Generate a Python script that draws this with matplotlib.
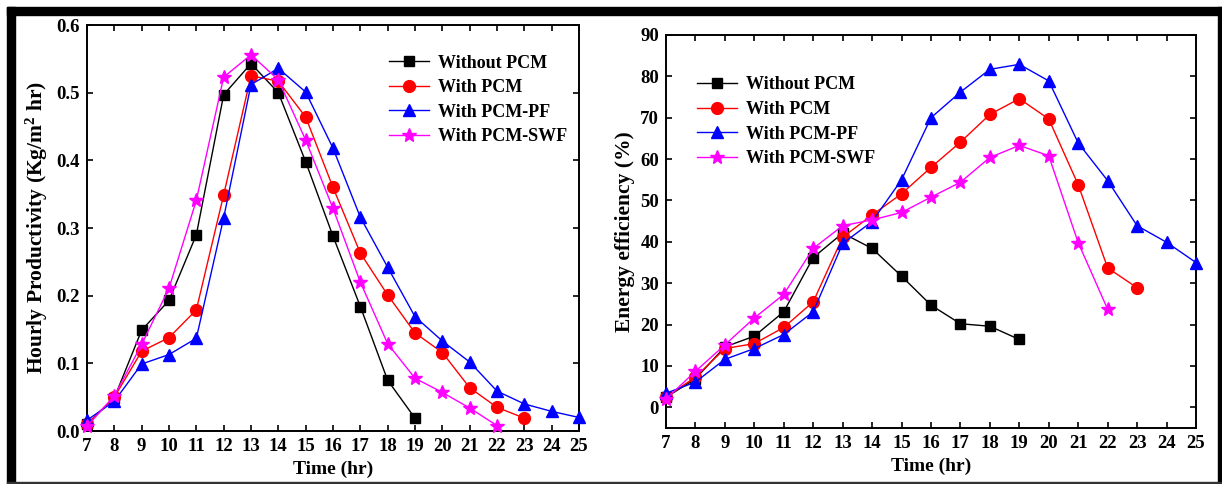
import matplotlib
matplotlib.use("Agg")
import matplotlib.pyplot as plt
from matplotlib.patches import Rectangle

# Data
hours = list(range(7, 26))

prod_without = [0.010, 0.049, 0.149, 0.193, 0.290, 0.497, 0.543, 0.500, 0.398, 0.288, 0.184, 0.075, 0.019]
prod_pcm = [0.010, 0.050, 0.118, 0.138, 0.179, 0.349, 0.525, 0.517, 0.464, 0.360, 0.263, 0.201, 0.145,
            0.116, 0.064, 0.035, 0.019]
prod_pf = [0.016, 0.044, 0.099, 0.113, 0.137, 0.315, 0.512, 0.536, 0.501, 0.418, 0.316, 0.242, 0.169,
           0.133, 0.102, 0.059, 0.040, 0.029, 0.020]
prod_swf = [0.007, 0.052, 0.128, 0.211, 0.341, 0.523, 0.556, 0.519, 0.430, 0.329, 0.220, 0.129, 0.078,
            0.057, 0.034, 0.008]

eff_without = [2.4, 6.9, 14.6, 17.2, 23.1, 36.2, 42.1, 38.4, 31.7, 24.7, 20.2, 19.6, 16.4]
eff_pcm = [2.5, 7.3, 14.2, 15.4, 19.3, 25.5, 41.1, 46.5, 51.6, 58.0, 64.1, 70.8, 74.6, 69.7, 53.8, 33.7, 28.9]
eff_pf = [3.4, 6.1, 11.6, 14.2, 17.6, 23.1, 39.6, 44.9, 55.0, 70.0, 76.2, 81.7, 82.9, 78.9, 63.9, 54.8,
          43.9, 39.9, 35.0]
eff_swf = [2.0, 8.7, 15.1, 21.6, 27.3, 38.4, 43.9, 45.3, 47.1, 50.8, 54.4, 60.4, 63.3, 60.8, 39.8, 23.7]

labels = ["Without PCM", "With PCM", "With PCM-PF", "With PCM-SWF"]
styles = [("black", "s", 7.5), ("red", "o", 8.5), ("blue", "^", 8.5), ("magenta", "*", 10.5)]

plt.rcParams["font.family"] = ["Liberation Serif", "DejaVu Serif"]
plt.rcParams["font.weight"] = "bold"
plt.rcParams["mathtext.fontset"] = "custom"
plt.rcParams["mathtext.rm"] = "Liberation Serif:bold"
plt.rcParams["mathtext.it"] = "Liberation Serif:bold"
plt.rcParams["mathtext.bf"] = "Liberation Serif:bold"

fig = plt.figure(figsize=(12.22, 4.84), dpi=100)

# black frame around the figure
fig.patches.append(Rectangle((7 / 1222, 1 - 15 / 484), 1 - 7 / 1222, 8 / 484,
                             transform=fig.transFigure, color="black", zorder=0))
fig.patches.append(Rectangle((7 / 1222, 0), 8 / 1222, 1 - 7 / 484,
                             transform=fig.transFigure, color="black", zorder=0))
fig.patches.append(Rectangle((1218 / 1222, 0), 4 / 1222, 1 - 7 / 484,
                             transform=fig.transFigure, color="black", zorder=0))
fig.patches.append(Rectangle((7 / 1222, 0), 1 - 7 / 1222, 2 / 484,
                             transform=fig.transFigure, color="#333333", zorder=0))

ax1 = fig.add_axes([0.0712, 0.1095, 0.4026, 0.8388])
ax2 = fig.add_axes([0.545, 0.1157, 0.4337, 0.812])


def draw(ax, series):
    for vals, lab, (col, mk, ms) in zip(series, labels, styles):
        ax.plot(hours[:len(vals)], vals, color=col, marker=mk, markersize=ms, linewidth=1.0,
                label=lab, clip_on=False, zorder=3)
    ax.set_xlim(7, 25)
    ax.set_xticks(hours)
    ax.tick_params(direction="in", top=True, right=True, length=4, width=1.2,
                   labelsize=13.5, pad=5)
    for s in ax.spines.values():
        s.set_linewidth(1.4)
    ax.set_xlabel("Time (hr)", fontsize=14, fontweight="bold", labelpad=4)


draw(ax1, [prod_without, prod_pcm, prod_pf, prod_swf])
ax1.set_ylim(0, 0.6)
ax1.set_yticks([0.0, 0.1, 0.2, 0.3, 0.4, 0.5, 0.6])
ax1.set_yticklabels(["0.0", "0.1", "0.2", "0.3", "0.4", "0.5", "0.6"])
ax1.set_ylabel(r"Hourly Productivity (Kg/m$^{2}$ hr)", fontsize=15.5, fontweight="bold", labelpad=5)
ax1.legend(loc="upper left", bbox_to_anchor=(0.6, 0.945), frameon=False, fontsize=13,
           handlelength=2.2, labelspacing=0.42, handletextpad=0.5, borderaxespad=0)

draw(ax2, [eff_without, eff_pcm, eff_pf, eff_swf])
ax2.set_ylim(-5, 90)
ax2.set_yticks(range(0, 91, 10))
ax2.set_ylabel("Energy efficiency (%)", fontsize=15.5, fontweight="bold", labelpad=4)
ax2.legend(loc="upper left", bbox_to_anchor=(0.045, 0.913), frameon=False, fontsize=13,
           handlelength=2.2, labelspacing=0.42, handletextpad=0.5, borderaxespad=0)

fig.savefig("out.png", dpi=100)
